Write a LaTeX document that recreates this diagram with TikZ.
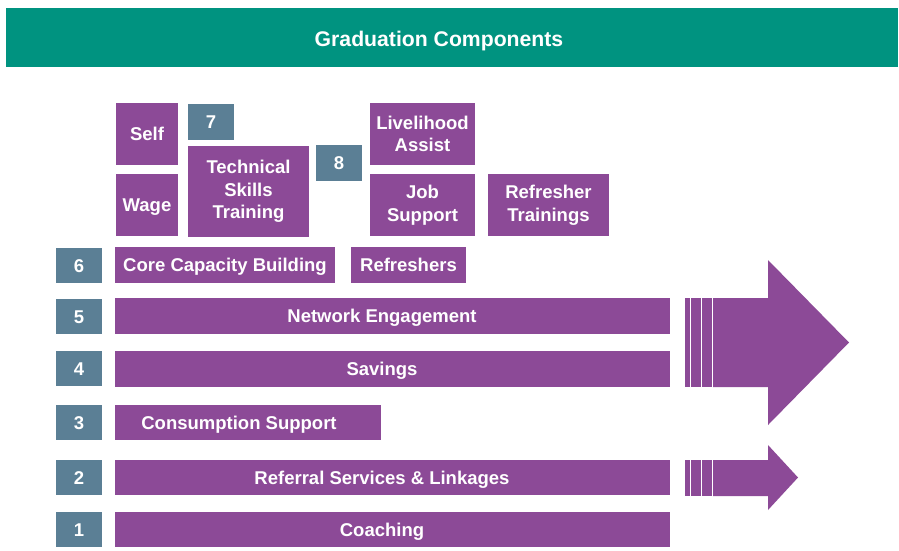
\documentclass[tikz,border=0pt]{standalone}
\usepackage{fontspec}
\setmainfont{Liberation Sans}
\definecolor{purp}{RGB}{140,74,151}
\definecolor{slate}{RGB}{91,127,149}
\definecolor{teal2}{RGB}{0,147,128}
\newcommand\lblfont{\fontsize{18.5}{22.5}\selectfont\bfseries}
\newcommand\hdrfont{\fontsize{21.2}{24}\selectfont\bfseries}
\tikzset{
  pbox/.style={fill=purp, text=white, font=\lblfont, inner sep=0pt, align=center},
  one/.style={text height=13pt, text depth=0pt},
  nbox/.style={fill=slate, text=white, font=\lblfont, inner sep=0pt, minimum width=46pt, minimum height=35pt, text height=13pt, text depth=0pt},
  longbar/.style={pbox, one, minimum width=555pt, minimum height=36pt},
  barlbl/.style={text=white, font=\lblfont, text height=13pt, text depth=0pt},
}
\begin{document}
\begin{tikzpicture}[x=1pt,y=-1pt]
\useasboundingbox (0,0) rectangle (899,550);
% header
\node[fill=teal2, minimum width=892pt, minimum height=59pt, inner sep=0pt,
  label={[text=white, font=\hdrfont, text height=15pt, text depth=0pt, xshift=-13pt, yshift=-1.5pt]center:Graduation Components}] (hdr) at (452,37.5) {};
% number boxes
\node[nbox] (n6) at (79,265.5) {6};
\node[nbox] (n5) at (79,316.5) {5};
\node[nbox] (n4) at (79,368.5) {4};
\node[nbox] (n3) at (79,422.5) {3};
\node[nbox] (n2) at (79,477.5) {2};
\node[nbox] (n1) at (79,529.5) {1};
\node[nbox, minimum height=36pt] (n7) at (211,122) {7};
\node[nbox, minimum height=36pt] (n8) at (339,163) {8};
% upper boxes
\node[pbox, one, minimum width=62pt, minimum height=62pt] (self) at (147,134) {Self};
\node[pbox, one, minimum width=62pt, minimum height=62pt] (wage) at (147,205) {Wage};
\node[pbox, minimum width=121pt, minimum height=91pt] (tech) at (248.5,191.5) {Technical\\Skills\\Training};
\node[pbox, one, minimum width=220pt, minimum height=36pt] (core) at (225,265) {Core Capacity Building};
\node[pbox, one, minimum width=115pt, minimum height=36pt] (refr) at (408.5,265) {Refreshers};
\node[pbox, minimum width=105pt, minimum height=62pt] (liv) at (422.5,134) {Livelihood\\Assist};
\node[pbox, minimum width=105pt, minimum height=62pt] (job) at (422.5,205) {Job\\Support};
\node[pbox, minimum width=121pt, minimum height=62pt] (rtr) at (548.5,205) {Refresher\\Trainings};
% long bars
\node[longbar, label={[barlbl, xshift=-10.5pt]center:Network Engagement}] (net) at (392.5,316) {};
\node[longbar, label={[barlbl, xshift=-10.5pt]center:Savings}] (sav) at (392.5,369) {};
\node[pbox, minimum width=266pt, minimum height=35pt, label={[barlbl, xshift=-9pt]center:Consumption Support}] (cons) at (248,422.5) {};
\node[longbar, minimum height=35pt, label={[barlbl, xshift=-10.5pt]center:Referral Services \& Linkages}] (refs) at (392.5,477.5) {};
\node[longbar, minimum height=35pt, label={[barlbl, xshift=-10.5pt]center:Coaching}] (coach) at (392.5,529.5) {};
% big arrow
\fill[purp] (685,298) rectangle (690,387);
\fill[purp] (691,298) rectangle (701,387);
\fill[purp] (702,298) rectangle (712,387);
\fill[purp] (713,298) -- (768,298) -- (768,260) -- (849,342.5) -- (768,425) -- (768,387) -- (713,387) -- cycle;
% small arrow
\fill[purp] (685,460) rectangle (690,496);
\fill[purp] (691,460) rectangle (701,496);
\fill[purp] (702,460) rectangle (712,496);
\fill[purp] (713,460) -- (768,460) -- (768,445) -- (798,477.5) -- (768,510) -- (768,496) -- (713,496) -- cycle;
\end{tikzpicture}
\end{document}
